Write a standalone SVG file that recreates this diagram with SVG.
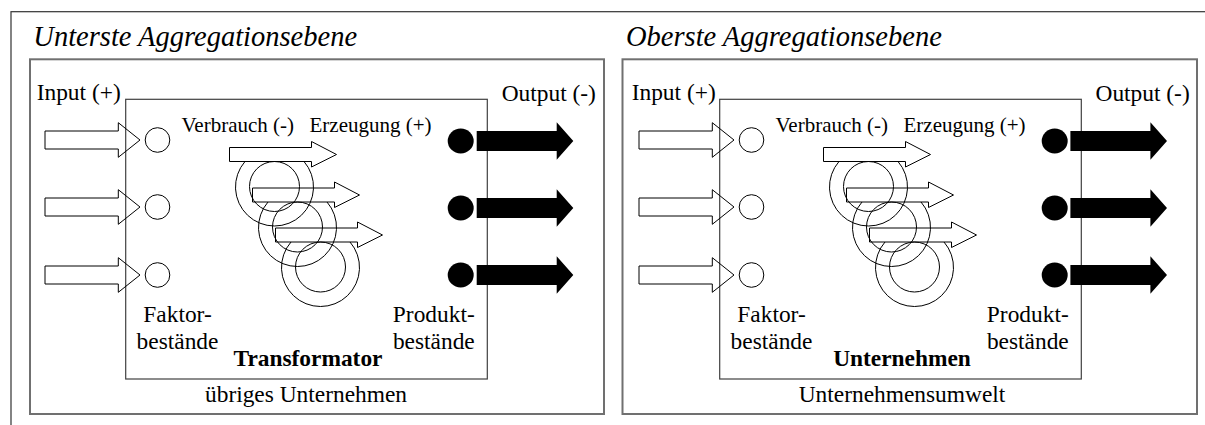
<svg xmlns="http://www.w3.org/2000/svg" xmlns:xlink="http://www.w3.org/1999/xlink" width="1205" height="425" viewBox="0 0 1205 425">
<style>
text{font-family:"Liberation Serif","Times New Roman",serif;fill:#000}
.title{font-size:28.5px;font-style:italic}
.lbl{font-size:23.4px}
.small{font-size:21px}
.bold{font-size:23.4px;font-weight:bold}
.mid{text-anchor:middle}
.frame{fill:none;stroke:#333;stroke-width:1.2}
.panel{fill:none;stroke:#707070;stroke-width:2}
.inner{fill:none;stroke:#404040;stroke-width:1.2}
.hollow{fill:none;stroke:#000;stroke-width:1}
.solid{fill:#000;stroke:none}
.stock{fill:#fff;stroke:#000;stroke-width:1}
</style>
<defs>
<path id="inArrow" class="hollow" d="M-95,-9 H-21.7 V-17.3 L0,0 L-21.7,17.3 V9 H-95 Z"/>
<path id="outArrow" class="solid" d="M-96.6,-10 H-16.6 V-18.8 L0,0 L-16.6,18.8 V10 H-96.6 Z"/>
<g id="swirl" class="hollow">
<circle cx="0" cy="0" r="25"/>
<path d="M-29.5,-25 A39,39 0 1 0 29.5,-25"/>
<path d="M-45,-39 H37 V-45 L62,-32 L37,-19.5 V-25 H-45 Z"/>
</g>
</defs>

<g id="frame">
<rect class="frame" x="11" y="11.7" width="1300" height="500"/>
</g>

<!-- left panel -->
<g id="panel-left">
<rect class="panel" x="30" y="59.3" width="574" height="354.7"/>
<text class="title" x="33.3" y="45.7">Unterste Aggregationsebene</text>
<text class="lbl mid" x="306" y="401.7">übriges Unternehmen</text>
</g>
<g id="transformator">
<rect class="inner" x="125.7" y="99.3" width="361.6" height="279.7"/>
<text class="bold mid" x="308" y="366">Transformator</text>
<text class="small" x="181.5" y="132">Verbrauch (-)</text>
<text class="small" x="309.5" y="132">Erzeugung (+)</text>
</g>
<g id="swirls-left">
<use xlink:href="#swirl" transform="translate(274.5,186.5)"/>
<use xlink:href="#swirl" transform="translate(297.5,227)"/>
<use xlink:href="#swirl" transform="translate(320.5,267)"/>
</g>
<g id="faktor-left">
<circle class="stock" cx="157.5" cy="140" r="12.3"/>
<circle class="stock" cx="157.5" cy="207" r="12.3"/>
<circle class="stock" cx="157.5" cy="275" r="12.3"/>
<text class="lbl mid" x="177.5" y="322.3">Faktor-</text>
<text class="lbl mid" x="177.5" y="349">bestände</text>
</g>
<g id="produkt-left">
<ellipse class="solid" cx="460.7" cy="141" rx="13" ry="12.5"/>
<ellipse class="solid" cx="460.7" cy="208" rx="13" ry="12.5"/>
<ellipse class="solid" cx="460.7" cy="275" rx="13" ry="12.5"/>
<text class="lbl mid" x="433.8" y="322.3">Produkt-</text>
<text class="lbl mid" x="433.8" y="349">bestände</text>
</g>
<g id="input-left">
<text class="lbl" x="36.7" y="99.5">Input (+)</text>
</g>
<g id="output-left">
<text class="lbl" x="501.7" y="101">Output (-)</text>
</g>

<!-- right panel -->
<g id="panel-right">
<rect class="panel" x="622.5" y="59.3" width="574.5" height="354.7"/>
<text class="title" x="626" y="45.7">Oberste Aggregationsebene</text>
<text class="lbl mid" x="902" y="401.7">Unternehmensumwelt</text>
</g>
<g id="unternehmen" transform="translate(594,0)">
<rect class="inner" x="125.7" y="99.3" width="361.6" height="279.7"/>
<text class="bold mid" x="308" y="366">Unternehmen</text>
<text class="small" x="181.5" y="132">Verbrauch (-)</text>
<text class="small" x="309.5" y="132">Erzeugung (+)</text>
</g>
<g id="swirls-right" transform="translate(594,0)">
<use xlink:href="#swirl" transform="translate(274.5,186.5)"/>
<use xlink:href="#swirl" transform="translate(297.5,227)"/>
<use xlink:href="#swirl" transform="translate(320.5,267)"/>
</g>
<g id="faktor-right" transform="translate(594,0)">
<circle class="stock" cx="157.5" cy="140" r="12.3"/>
<circle class="stock" cx="157.5" cy="207" r="12.3"/>
<circle class="stock" cx="157.5" cy="275" r="12.3"/>
<text class="lbl mid" x="177.5" y="322.3">Faktor-</text>
<text class="lbl mid" x="177.5" y="349">bestände</text>
</g>
<g id="produkt-right" transform="translate(594,0)">
<ellipse class="solid" cx="460.7" cy="141" rx="13" ry="12.5"/>
<ellipse class="solid" cx="460.7" cy="208" rx="13" ry="12.5"/>
<ellipse class="solid" cx="460.7" cy="275" rx="13" ry="12.5"/>
<text class="lbl mid" x="433.8" y="322.3">Produkt-</text>
<text class="lbl mid" x="433.8" y="349">bestände</text>
</g>
<g id="input-right">
<text class="lbl" x="631.7" y="99.5">Input (+)</text>
</g>
<g id="output-right">
<text class="lbl" x="1095.5" y="101">Output (-)</text>
</g>

<g id="connectors">
<use xlink:href="#inArrow" transform="translate(140,140)"/>
<use xlink:href="#inArrow" transform="translate(140,207)"/>
<use xlink:href="#inArrow" transform="translate(140,275)"/>
<use xlink:href="#outArrow" transform="translate(573.3,141)"/>
<use xlink:href="#outArrow" transform="translate(573.3,208)"/>
<use xlink:href="#outArrow" transform="translate(573.3,275)"/>
<use xlink:href="#inArrow" transform="translate(734,140)"/>
<use xlink:href="#inArrow" transform="translate(734,207)"/>
<use xlink:href="#inArrow" transform="translate(734,275)"/>
<use xlink:href="#outArrow" transform="translate(1167,141)"/>
<use xlink:href="#outArrow" transform="translate(1167,208)"/>
<use xlink:href="#outArrow" transform="translate(1167,275)"/>
</g>
</svg>
